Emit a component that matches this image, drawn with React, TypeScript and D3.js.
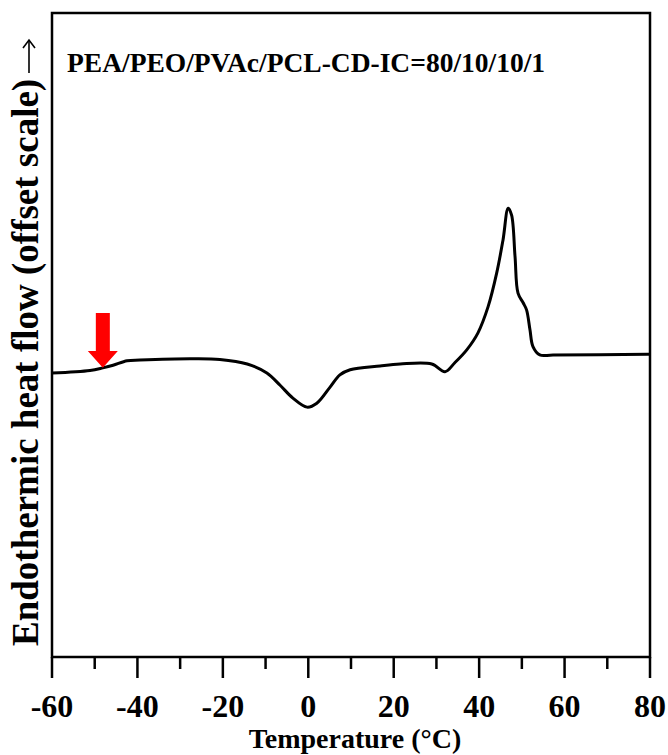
import React from 'react';
import * as d3 from 'd3';

// DSC 曲線（温度 °C, 相対熱流 任意単位）
const temps = [-60, -51.1, -48.1, -45.7, -42.4, -39.4, -27.7, -20.7, -14.3, -9.7, -6.6, -3.6, -0.3, 2.0, 5.1, 7.4, 9.8, 16.8, 21.5, 28.9, 32.0, 34.3, 37.1, 39.7, 42.1, 44.1, 45.6, 46.8, 47.6, 48.4, 49.1, 50.3, 51.1, 51.9, 52.6, 54.2, 57.3, 79.5, 80];
const heatFlow = [44.1, 44.5, 44.9, 45.3, 46.0, 46.1, 46.3, 46.2, 45.5, 44.1, 42.2, 40.2, 38.8, 39.4, 41.9, 43.8, 44.6, 45.2, 45.5, 45.5, 44.3, 45.7, 47.7, 50.3, 54.4, 59.6, 64.8, 69.7, 68.6, 62.2, 56.5, 55.0, 53.9, 50.8, 48.2, 46.9, 46.9, 47.0, 47.0];
const xTicks = [-60, -40, -20, 0, 20, 40, 60, 80];
const xMinorTicks = [-50, -30, -10, 10, 30, 50, 70];

// ガラス転移を示す矢印（温度, 先端値, 軸の上端値）
const arrowT = -48.1;
const arrowTip = 44.9;
const arrowHeadBase = 47.5;
const arrowTop = 53.4;

const sampleLabel = 'PEA/PEO/PVAc/PCL-CD-IC=80/10/10/1';
const xTitle = 'Temperature (°C)';
const yTitle = 'Endothermic heat flow (offset scale)';

const W = 668;
const H = 755;
const margin = { top: 13, right: 18, bottom: 98, left: 52 };

const App = () => {
  const x = d3.scaleLinear().domain([-60, 80]).range([margin.left, W - margin.right]);
  const y = d3.scaleLinear().domain([0, 100]).range([H - margin.bottom, margin.top]);

  const pts: [number, number][] = temps.map((t, i) => [t, heatFlow[i]]);
  const line = d3.line<[number, number]>()
    .x(d => x(d[0]))
    .y(d => y(d[1]))
    .curve(d3.curveCatmullRom.alpha(0.5));

  const font = '"Liberation Serif", "Times New Roman", serif';
  const x0 = margin.left;
  const x1 = W - margin.right;
  const yb = H - margin.bottom;

  // 矢印の形
  const ax = x(arrowT);
  const arrowPath = [
    [ax - 7, y(arrowTop)],
    [ax + 7, y(arrowTop)],
    [ax + 7, y(arrowHeadBase)],
    [ax + 15, y(arrowHeadBase)],
    [ax, y(arrowTip)],
    [ax - 15, y(arrowHeadBase)],
    [ax - 7, y(arrowHeadBase)],
  ];

  return (
    <svg width={W} height={H} style={{ position: 'absolute', left: 0, top: 0, background: '#fff' }}>
      <rect x={x0} y={margin.top} width={x1 - x0} height={yb - margin.top} fill="none" stroke="#000" strokeWidth={2.5} />
      {xTicks.map(t => (
        <g key={t}>
          <line x1={x(t)} x2={x(t)} y1={yb} y2={yb + 21} stroke="#000" strokeWidth={2.5} />
          <text x={x(t)} y={yb + 60} textAnchor="middle" fontFamily={font} fontWeight="bold" fontSize={32}>{t}</text>
        </g>
      ))}
      {xMinorTicks.map(t => (
        <line key={t} x1={x(t)} x2={x(t)} y1={yb} y2={yb + 12} stroke="#000" strokeWidth={2.5} />
      ))}
      <text x={(x0 + x1) / 2 + 4} y={748} textAnchor="middle" fontFamily={font} fontWeight="bold" fontSize={28}>{xTitle}</text>
      <text transform="translate(38, 646) rotate(-90)" textAnchor="start" fontFamily={font} fontWeight="bold" fontSize={37}>{yTitle}</text>
      {/* 縦軸ラベル末尾の矢印 */}
      <line x1={29} x2={29} y1={73} y2={41} stroke="#000" strokeWidth={1.6} />
      <path d="M23,48 L29,40 L35,48" fill="none" stroke="#000" strokeWidth={1.6} />
      <text x={67} y={72} fontFamily={font} fontWeight="bold" fontSize={27.5}>{sampleLabel}</text>
      <path d={line(pts) ?? ''} fill="none" stroke="#000" strokeWidth={3} strokeLinejoin="round" />
      <polygon points={arrowPath.map(p => p.join(',')).join(' ')} fill="#ff0000" />
    </svg>
  );
};

export default App;
